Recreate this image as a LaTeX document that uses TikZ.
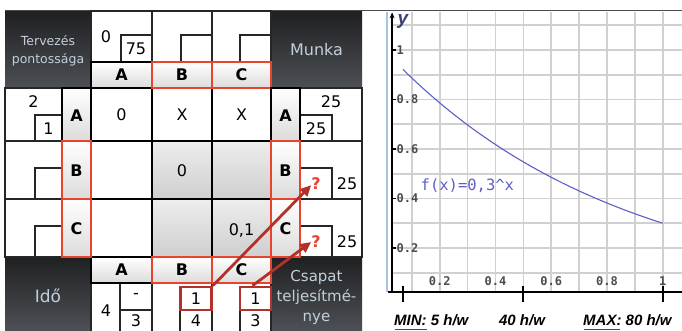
\documentclass[tikz,border=0pt]{standalone}
\usepackage{fontspec}
\setmainfont{DejaVu Sans}
\setmonofont{DejaVu Sans Mono}
\newfontfamily\axisfont{Liberation Sans}
\usetikzlibrary{arrows.meta,calc}
\definecolor{darktop}{HTML}{1F2022}
\definecolor{darkbot}{HTML}{4D5054}
\definecolor{darktext}{HTML}{C3CFDB}
\definecolor{xred}{HTML}{E8432D}
\definecolor{boxred}{HTML}{B3312B}
\definecolor{curvec}{HTML}{5C60C8}
\definecolor{gridc}{HTML}{D0D0D0}
\definecolor{axisblue}{HTML}{A8C4E2}
\definecolor{ylabc}{HTML}{3B3F72}

\begin{document}
\begin{tikzpicture}[x=1pt,y=-1pt,
    dark/.style={top color=darktop,bottom color=darkbot},
    darktxt/.style={text=darktext,align=center,inner sep=0pt},
    hdr/.style={top color=white,bottom color=black!14,draw=black,line width=1.5pt},
    hdrred/.style={hdr,draw=xred},
    grayc/.style={top color=black!7,bottom color=black!19},
    thinc/.style={draw=black!85,line width=1.1pt},
    boldc/.style={draw=black,line width=1.9pt},
    num/.style={font=\fontsize{16}{16}\selectfont,inner sep=0pt},
    letter/.style={font=\bfseries\fontsize{16}{16}\selectfont,inner sep=0pt},
    qmark/.style={num,font=\bfseries\fontsize{16}{16}\selectfont,text=xred},
    pick/.style={num,draw=boxred,line width=2.6pt,minimum width=31pt,minimum height=23pt},
    link/.style={draw=boxred,line width=2.8pt,-{Triangle[length=11pt,width=10pt]}},
    gridl/.style={draw=gridc,line width=1.6pt},
    ticklbl/.style={font=\ttfamily\bfseries\fontsize{12}{12}\selectfont,text=black!70,inner sep=0pt},
    botl/.style={font=\axisfont\bfseries\itshape\fontsize{15}{15}\selectfont,inner sep=0pt}]
  \useasboundingbox (0,0) rectangle (682,330);
  \fill[white] (0,0) rectangle (682,330);
  \draw[black!70,line width=0.8pt] (5,10.5) -- (682,10.5);

  % corner boxes
  \path[dark] (5,11) rectangle (91,88);
  \path[dark] (271,11) rectangle (362,88);
  \path[dark] (5,257) rectangle (91,330);
  \path[dark] (271,257) rectangle (362,330);
  \node[darktxt,font=\fontsize{12.5}{18}\selectfont] (plan) at (48,51) {Tervezés\\pontossága};
  \node[darktxt,font=\fontsize{16}{16}\selectfont] (work) at (316.5,50) {Munka};
  \node[darktxt,font=\fontsize{17}{17}\selectfont] (time) at (48,296) {Idő};
  \node[darktxt,font=\fontsize{15}{20}\selectfont] (team) at (316.5,297) {Csapat\\teljesítmé-\\nye};

  % top values
  \foreach \xa/\xb in {91/152,152/212,212/271} {
    \draw[thinc] (\xa,11) rectangle (\xb,62);
    \draw[thinc] ({\xb-31},35) rectangle (\xb,62);
  }
  \node[num] (topv) at (106,37) {0};
  \node[num] (topw) at (136,49) {75};

  % middle cells
  \foreach \xa/\xb in {152/212,212/271}\foreach \ya/\yb in {141/199,199/257}
    \path[grayc] (\xa,\ya) rectangle (\xb,\yb);
  \foreach \xa/\xb in {91/152,152/212,212/271}\foreach \ya/\yb in {88/141,141/199,199/257}
    \draw[boldc] (\xa,\ya) rectangle (\xb,\yb);
  \node[num] (aa) at (121.5,115) {0};
  \node[num] (ab) at (182,115) {X};
  \node[num] (ac) at (241.5,115) {X};
  \node[num] (bb) at (182,171) {0};
  \node[num] (cc) at (241.5,230) {0,1};

  % side values
  \foreach \ya/\ym/\yb in {88/115/141,141/168/199,199/226/257} {
    \draw[thinc] (5,\ya) rectangle (62,\yb);
    \draw[thinc] (35,\ym) rectangle (62,\yb);
    \draw[thinc] (300,\ya) rectangle (362,\yb);
    \draw[thinc] (300,\ym) rectangle (332,\yb);
  }
  \node[num] (lefta) at (33.5,102) {2};
  \node[num] (leftb) at (48.5,128.5) {1};
  \node[num] (righta) at (331,102) {25};
  \node[num] (rightb) at (316,128.5) {25};
  \node[qmark] (qB) at (316,184) {?};
  \node[num] (rB) at (347,184) {25};
  \node[qmark] (qC) at (316,242) {?};
  \node[num] (rC) at (347,242) {25};

  % bottom values
  \foreach \xa/\xb in {91/152,152/212,212/271}
    \draw[thinc] (\xa,332) -- (\xa,283) -- (\xb,283) -- (\xb,332);
  \draw[thinc] (120,332) -- (120,283);
  \draw[thinc] (120,310) -- (152,310);
  \draw[thinc] (180,310) -- (180,332);
  \draw[thinc] (240,310) -- (240,332);
  \node[num] (bota) at (106,311) {4};
  \node[num] (botd) at (136,296) {-};
  \node[num] (bote) at (136,320.5) {3};
  \node[num] (botf) at (196,321) {4};
  \node[num] (botg) at (255.5,321) {3};
  \node[pick] (b1) at (196,298.5) {1};
  \node[pick] (c1) at (255.5,298.5) {1};

  % headers
  \foreach \xa/\xb/\t/\s in {91/152/A/hdr,152/212/B/hdrred,212/271/C/hdrred} {
    \draw[\s] (\xa,62) rectangle (\xb,88);
    \draw[\s] (\xa,257) rectangle (\xb,283);
    \node[letter] (top\t) at ({(\xa+\xb)/2},75) {\t};
    \node[letter] (bot\t) at ({(\xa+\xb)/2},270) {\t};
  }
  \foreach \ya/\yb/\t/\s in {88/141/A/hdr,141/199/B/hdrred,199/257/C/hdrred} {
    \draw[\s] (62,\ya) rectangle (91,\yb);
    \draw[\s] (271,\ya) rectangle (300,\yb);
    \node[letter] (lt\t) at (76.5,{(\ya+\yb)/2+1}) {\t};
    \node[letter] (rt\t) at (285.5,{(\ya+\yb)/2+1}) {\t};
  }

  \draw[link] (b1.north east) -- ([yshift=5pt]qB.south west);
  \draw[link] ([xshift=-3pt]c1.north) -- (qC.west);

  % graph
  \begin{scope}[shift={(384,297.5)},x=278.75pt,y=247.5pt]
    \foreach \k in {1,...,10} \draw[gridl] (\k/10,0.022) -- (\k/10,1.155);
    \foreach \k in {1,...,11} \draw[gridl] (0.029,\k/10) -- (1.07,\k/10);
    \draw[axisblue,line width=1.6pt] (0.011,0.022) -- (0.011,1.155);
    \draw[curvec,line width=1.1pt,domain=0.068:1,samples=40] plot (\x,{0.3^\x});
    \draw[line width=2.4pt] (0.014,0.022) -- (1.07,0.022);
    \draw[line width=2.2pt,-{Stealth[length=6pt,width=5pt]}] (0.029,0.022) -- (0.029,1.152);
    \foreach \t in {0.068,0.499,1.0} \draw[line width=2.4pt] (\t,0.048) -- (\t,-0.018);
    \foreach \v/\t/\n in {0.2/0.2/a,0.4/0.4/b,0.6/0.6/c,0.8/0.8/d,1/1/e} {
      \draw[line width=1.2pt] (0.029,\v) -- (0.044,\v);
      \node[ticklbl,anchor=west] (yl\n) at (0.045,\v) {\t};
      \node[ticklbl] (xl\n) at (\v,0.065) {\t};
    }
    \node[font=\axisfont\bfseries\itshape\fontsize{19}{19}\selectfont,text=ylabc,inner sep=0pt] (ylab) at (0.068,1.115) {y};
    \node[font=\ttfamily\fontsize{15.5}{15.5}\selectfont,text=curvec,inner sep=0pt] (fx) at (0.299,0.45) {f(x)=0,3\textasciicircum x};
  \end{scope}
  \node[botl,anchor=west] (minl) at (394,320) {MIN: 5 h/w};
  \node[botl] (midl) at (522,320) {40 h/w};
  \node[botl,anchor=west] (maxl) at (583,320) {MAX: 80 h/w};
  \draw[red,line width=1pt] (395,329) -- (427,329);
  \draw[red,line width=1pt] (584,329) -- (620,329);
\end{tikzpicture}
\end{document}
